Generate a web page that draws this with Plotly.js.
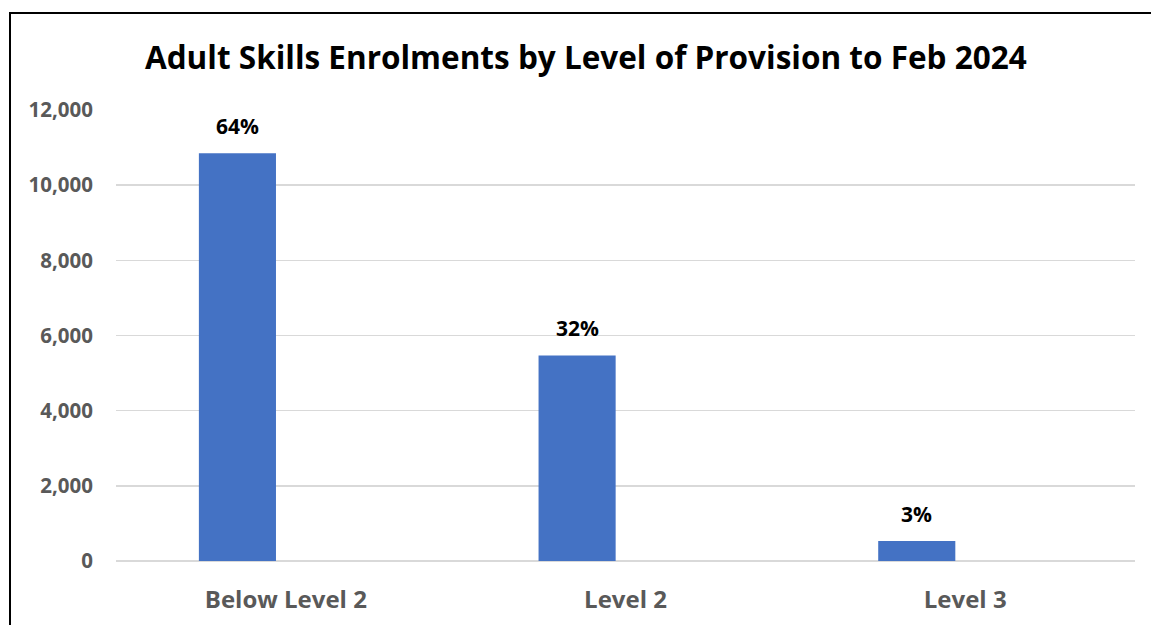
<!DOCTYPE html>
<html>
<head>
<meta charset="utf-8">
<script src="https://cdn.plot.ly/plotly-3.0.1.min.js"></script>
<style>
html,body{margin:0;padding:0;background:#fff;}
#wrap{position:relative;width:1151px;height:625px;}
#chart{position:absolute;left:0;top:0;width:1151px;height:625px;}
#frame{position:absolute;left:9px;top:12px;right:-5px;bottom:-5px;border-left:2px solid #000;border-top:2px solid #000;pointer-events:none;}
</style>
</head>
<body>
<div id="wrap"><div id="chart"></div><div id="frame"></div></div>
<script>
const categories = ["Below Level 2", "Level 2", "Level 3"];
const enrolments = [10850, 5470, 530];
const shareLabels = ["64%", "32%", "3%"];
const yTickVals = [0, 2000, 4000, 6000, 8000, 10000, 12000];
const yTickText = ["0", "2,000", "4,000", "6,000", "8,000", "10,000", "12,000"];

const font = "Open Sans, Noto Sans, sans-serif";
const barWidth = 0.227, barOffset = -0.256;

const trace = {
  type: "bar",
  x: categories,
  y: enrolments,
  marker: {color: "#4472C4"},
  width: barWidth,
  offset: barOffset,
  hoverinfo: "x+y"
};

const annotations = categories.map((c, i) => ({
  x: i + barOffset + barWidth / 2, y: enrolments[i], xref: "x", yref: "y",
  text: "<b>" + shareLabels[i] + "</b>", showarrow: false,
  yanchor: "bottom", yshift: 11,
  font: {family: font, size: 21, color: "#000"}
}));

const layout = {
  width: 1151, height: 625,
  margin: {l: 116, r: 16, t: 110, b: 64},
  paper_bgcolor: "#fff", plot_bgcolor: "#fff",
  showlegend: false,
  annotations: annotations,
  title: {text: "<b>Adult Skills Enrolments by Level of Provision to Feb 2024</b>",
          font: {family: font, size: 31.5, color: "#000"},
          x: 0.509, xanchor: "center", y: 0.908, yanchor: "middle"},
  xaxis: {type: "category", showgrid: false, showline: false, zeroline: false,
          ticks: "", ticklabelstandoff: 22,
          tickfont: {family: font, size: 24, color: "#595959", weight: "bold"}},
  yaxis: {range: [0, 12000], tickvals: yTickVals, ticktext: yTickText,
          showgrid: true, gridcolor: "#d9d9d9", gridwidth: 1.6,
          zeroline: true, zerolinecolor: "#d9d9d9", zerolinewidth: 1.6,
          showline: false, ticks: "", ticklabelstandoff: 22,
          tickfont: {family: font, size: 20.5, color: "#595959", weight: "bold"}},
  bargap: 0.2
};

Plotly.newPlot("chart", [trace], layout, {displayModeBar: false, staticPlot: true});
</script>
</body>
</html>
